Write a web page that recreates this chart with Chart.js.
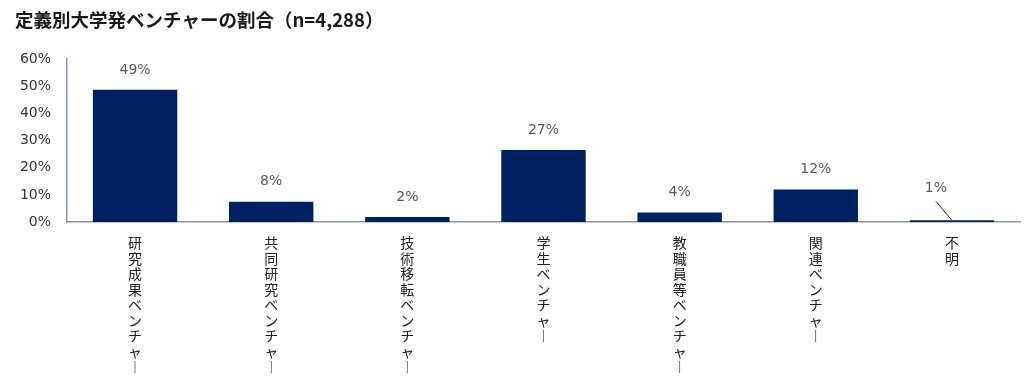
<!DOCTYPE html>
<html>
<head>
<meta charset="utf-8">
<script src="https://cdn.jsdelivr.net/npm/chart.js@4.4.0/dist/chart.umd.min.js"></script>
<style>
  html, body { margin: 0; padding: 0; background: #fff; }
  #wrap { width: 1024px; height: 385px; }
</style>
</head>
<body>
<div id="wrap"><canvas id="ventureChart"></canvas></div>
<script>
// カテゴリと割合（%）
const categories = ['研究成果ベンチャー', '共同研究ベンチャー', '技術移転ベンチャー', '学生ベンチャー', '教職員等ベンチャー', '関連ベンチャー', '不明'];
const shares = [48.7, 7.5, 1.8, 26.5, 3.5, 12.0, 0.6];
const yTicks = [0, 10, 20, 30, 40, 50, 60];

const titleText = '定義別大学発ベンチャーの割合（n=4,288）';
const axisColor = '#8497b0';

// 縦書き風のラベル（1文字ずつ改行、長音は縦棒に）
function verticalLabel(s) {
  return s.split('').map((c) => (c === 'ー' ? '︱' : c));
}

// 棒の上に値ラベル（小さい値は引出線付き）
const valueLabels = {
  id: 'valueLabels',
  afterDatasetsDraw(chart) {
    const ctx = chart.ctx;
    const meta = chart.getDatasetMeta(0);
    ctx.save();
    ctx.font = '14px "DejaVu Sans", sans-serif';
    ctx.fillStyle = '#595959';
    ctx.textAlign = 'center';
    ctx.textBaseline = 'middle';
    meta.data.forEach((bar, i) => {
      const v = shares[i];
      const txt = Math.round(v) + '%';
      if (v < 1) {
        const lx = bar.x - 16;
        const ly = bar.y - 32;
        ctx.fillText(txt, lx, ly);
        ctx.strokeStyle = '#222';
        ctx.lineWidth = 1;
        ctx.beginPath();
        ctx.moveTo(lx, ly + 13);
        ctx.lineTo(bar.x, bar.y);
        ctx.stroke();
      } else {
        ctx.fillText(txt, bar.x, bar.y - 20);
      }
    });
    ctx.restore();
  },
};

new Chart(document.getElementById('ventureChart').getContext('2d'), {
  type: 'bar',
  data: {
    labels: categories,
    datasets: [
      {
        data: shares,
        backgroundColor: '#002060',
        borderWidth: 0,
        barPercentage: 0.62,
        categoryPercentage: 1.0,
      },
    ],
  },
  options: {
    responsive: true,
    maintainAspectRatio: false,
    animation: false,
    layout: { padding: { left: 15, right: 4, top: 0, bottom: 0 } },
    plugins: {
      legend: { display: false },
      tooltip: { enabled: false },
      title: {
        display: true,
        text: titleText,
        align: 'start',
        color: '#1a1a1a',
        font: { family: '"Noto Sans CJK JP", sans-serif', size: 18.5, weight: 'bold' },
        padding: { top: 9, bottom: 28 },
      },
    },
    scales: {
      x: {
        grid: { display: false, drawTicks: false },
        border: { display: true, color: axisColor, width: 1.5 },
        afterFit: (scale) => { scale.height = 163; },
        ticks: {
          autoSkip: false,
          maxRotation: 0,
          minRotation: 0,
          padding: 13,
          color: '#222',
          font: { family: '"Noto Sans CJK JP", sans-serif', size: 14, lineHeight: 1.11 },
          callback: (value, index) => verticalLabel(categories[index]),
        },
      },
      y: {
        min: yTicks[0],
        max: yTicks[yTicks.length - 1],
        afterFit: (scale) => { scale.width = 52; },
        afterBuildTicks: (scale) => { scale.ticks = yTicks.map((v) => ({ value: v })); },
        grid: { display: false, drawTicks: false },
        border: { display: true, color: axisColor, width: 1.5 },
        ticks: {
          padding: 16,
          color: '#333',
          font: { family: '"DejaVu Sans", sans-serif', size: 14 },
          callback: (v) => v + '%',
        },
      },
    },
  },
  plugins: [valueLabels],
});
</script>
</body>
</html>
